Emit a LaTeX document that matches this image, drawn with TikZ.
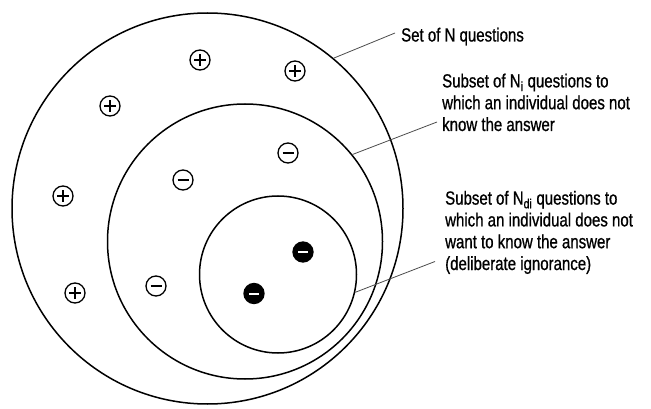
\documentclass[tikz,border=0pt]{standalone}
\usepackage{fontspec}
\setmainfont[FakeStretch=0.79,FakeBold=0.8]{Liberation Sans}
\usetikzlibrary{
	positioning,
	calc
}

\tikzset{
	setring/.style={draw, circle, line width=1.5pt, inner sep=0pt},
	answer/.style={draw, circle, line width=1.3pt, minimum size=20pt, inner sep=0pt},
	known/.style={answer,
		path picture={\draw[line width=1.5pt]
			([xshift=-6pt]path picture bounding box.center) -- ([xshift=6pt]path picture bounding box.center)
			([yshift=-6pt]path picture bounding box.center) -- ([yshift=6pt]path picture bounding box.center);}},
	unknown/.style={answer,
		path picture={\draw[line width=1.5pt]
			([xshift=-5.5pt]path picture bounding box.center) -- ([xshift=5.5pt]path picture bounding box.center);}},
	ignored/.style={answer, fill=black,
		path picture={\draw[white, line width=2pt]
			([xshift=-5pt]path picture bounding box.center) -- ([xshift=5pt]path picture bounding box.center);}},
	leader/.style={draw=black!70, line width=0.8pt},
	lbl/.style={align=left, inner sep=0pt, anchor=base west,
		font=\fontsize{19}{21.8}\selectfont}
}

\begin{document}
\begin{tikzpicture}[x=1pt,y=-1pt]
		\useasboundingbox (0,0) rectangle (651,409);
		
		% Nested sets
		\node[setring, minimum size=391pt] (setN) at (207.5,208.5) {};
		\node[setring, minimum size=275pt] (setNi) at (245,241.5) {};
		\node[setring, minimum size=157pt] (setNdi) at (278,274.5) {};
		
		% Questions
		\foreach \p [count=\k] in {(200,60), (295,71), (110,106), (63,196), (75,293)}
		\node[known] (pos\k) at \p {};
		\foreach \p [count=\k] in {(288,153), (183,180), (156,286)}
		\node[unknown] (neg\k) at \p {};
		\node[ignored] (dneg1) at (303,252) {};
		\node[ignored] (dneg2) at (254,293.5) {};
		
		% Labels
		\node[lbl] (lblN) at (401,41.5) {Set of N questions};
		\node[lbl] (lblNi) at (442,131) {Subset of N\textsubscript{i} questions to\\which an individual does not\\know the answer};
		\node[lbl] (lblNdi) at (445,270) {Subset of N\textsubscript{di} questions to\\which an individual does not\\want to know the answer\\(deliberate ignorance)};
		
		\draw[leader] (setN.50) -- ($(lblN.base west)+(-6pt,8.5pt)$);
		\draw[leader] (setNi.39) -- ($(lblNi.base west)+(-5pt,9pt)$);
		\draw[leader] (setNdi.-13) -- ($(lblNdi.base west)+(-10pt,8.5pt)$);
		
	\end{tikzpicture}
\end{document}
